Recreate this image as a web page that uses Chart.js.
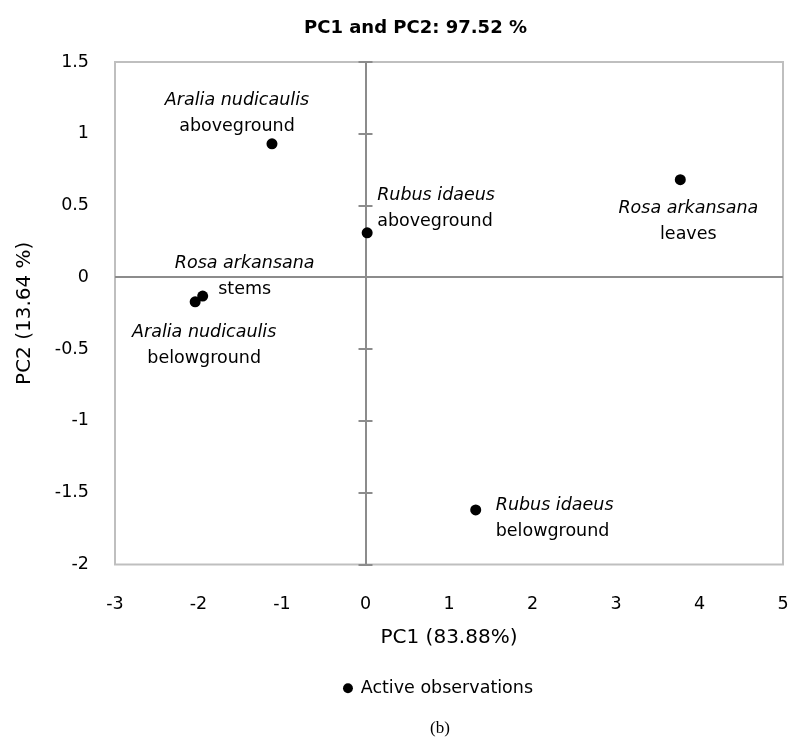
<!DOCTYPE html>
<html>
<head>
<meta charset="utf-8">
<script src="https://cdn.jsdelivr.net/npm/chart.js@4.4.1/dist/chart.umd.min.js"></script>
<style>
  body { margin: 0; background: #fff; }
  #wrap { width: 795px; height: 747px; }
</style>
</head>
<body>
<div id="wrap"><canvas id="pcaChart" width="795" height="747"></canvas></div>
<script>
// PCA scores
const pc1 = [-1.12, 0.02, 3.77, -1.95, -2.04, 1.32];
const pc2 = [0.93, 0.31, 0.68, -0.13, -0.17, -1.62];
const species = ['Aralia nudicaulis', 'Rubus idaeus', 'Rosa arkansana', 'Rosa arkansana', 'Aralia nudicaulis', 'Rubus idaeus'];
const parts = ['aboveground', 'aboveground', 'leaves', 'stems', 'belowground', 'belowground'];
const xTicks = [-3, -2, -1, 0, 1, 2, 3, 4, 5];
const yTicks = [-2, -1.5, -1, -0.5, 0, 0.5, 1, 1.5];

// where each label sits relative to its point (px): dx, dy of first line, alignment
const labelPos = [
  [-35, -43, 'center'],
  [10, -37, 'left'],
  [8, 29, 'center'],
  [42, -33, 'center'],
  [9, 31, 'center'],
  [20, -4, 'left']
];

const FONT = 'DejaVu Sans';
const AXIS_GRAY = '#8c8c8c';
const zeroOnly = c => (c.tick && c.tick.value === 0) ? AXIS_GRAY : 'rgba(0,0,0,0)';

const pointLabels = {
  id: 'pointLabels',
  beforeDraw(chart) {
    const {ctx, chartArea: a} = chart;
    ctx.save();
    ctx.strokeStyle = '#bfbfbf';
    ctx.lineWidth = 2;
    ctx.strokeRect(a.left, a.top, a.right - a.left, a.bottom - a.top);
    ctx.restore();
  },
  beforeDatasetsDraw(chart) {
    // small tick marks on the vertical zero axis
    const {ctx} = chart;
    const x0 = chart.scales.x.getPixelForValue(0);
    ctx.save();
    ctx.strokeStyle = AXIS_GRAY;
    ctx.lineWidth = 2;
    yTicks.forEach(v => {
      const y = Math.round(chart.scales.y.getPixelForValue(v));
      ctx.beginPath();
      ctx.moveTo(x0 - 7, y);
      ctx.lineTo(x0 + 7, y);
      ctx.stroke();
    });
    ctx.restore();
  },
  afterDatasetsDraw(chart) {
    const {ctx} = chart;
    const meta = chart.getDatasetMeta(0);
    ctx.save();
    ctx.fillStyle = '#000';
    ctx.textBaseline = 'middle';
    meta.data.forEach((pt, i) => {
      const [dx, dy, align] = labelPos[i];
      ctx.textAlign = align;
      ctx.font = 'italic 17.5px "' + FONT + '"';
      ctx.fillText(species[i], pt.x + dx, pt.y + dy);
      ctx.font = '17.5px "' + FONT + '"';
      ctx.fillText(parts[i], pt.x + dx, pt.y + dy + 26);
    });
    ctx.restore();
  },
  afterDraw(chart) {
    const {ctx} = chart;
    ctx.save();
    ctx.fillStyle = '#000';
    ctx.font = '17px "Liberation Serif"';
    ctx.textAlign = 'center';
    ctx.textBaseline = 'middle';
    ctx.fillText('(b)', 440, 729);
    ctx.restore();
  },
  afterLayout(chart) {
    // title and legend sit a bit right of the canvas centre in the original
    chart.legend.left += 42;
    chart.legend.right += 42;
    chart.titleBlock.left += 19;
    chart.titleBlock.right += 19;
  }
};

const ctx = document.getElementById('pcaChart').getContext('2d');
const chart = new Chart(ctx, {
  type: 'scatter',
  data: {
    datasets: [{
      label: 'Active observations',
      data: pc1.map((x, i) => ({x: x, y: pc2[i]})),
      backgroundColor: '#000',
      borderColor: '#000',
      borderWidth: 0,
      pointRadius: 5.5,
      pointHoverRadius: 5.5
    }]
  },
  options: {
    responsive: false,
    animation: false,
    devicePixelRatio: 1,
    layout: { padding: { left: 10, right: 12, top: 0, bottom: 40 } },
    plugins: {
      tooltip: { enabled: false },
      title: {
        display: true,
        text: 'PC1 and PC2: 97.52 %',
        color: '#000',
        font: { family: FONT, size: 18, weight: 'bold' },
        padding: { top: 18, bottom: 22.4 }
      },
      legend: {
        position: 'bottom',
        labels: {
          color: '#000',
          font: { family: FONT, size: 17.5 },
          usePointStyle: true,
          pointStyle: 'circle',
          boxWidth: 8,
          boxHeight: 7,
          padding: 30
        }
      }
    },
    scales: {
      x: {
        type: 'linear',
        min: -3,
        max: 5,
        afterBuildTicks: s => { s.ticks = xTicks.map(v => ({value: v})); },
        afterFit: s => { s.height = 85; },
        border: { display: false },
        grid: {
          drawTicks: true,
          tickLength: 26,
          tickColor: 'rgba(0,0,0,0)',
          lineWidth: 2,
          color: zeroOnly
        },
        ticks: {
          color: '#000',
          font: { family: FONT, size: 17.5 },
          padding: 3,
          maxRotation: 0,
          callback: v => String(v)
        },
        title: {
          display: true,
          text: 'PC1 (83.88%)',
          color: '#000',
          font: { family: FONT, size: 20 },
          padding: { top: 0, bottom: 0 }
        }
      },
      y: {
        type: 'linear',
        min: -2,
        max: 1.5,
        afterBuildTicks: s => { s.ticks = yTicks.map(v => ({value: v})); },
        afterFit: s => { s.width = 105; },
        border: { display: false },
        grid: {
          drawTicks: false,
          lineWidth: 2,
          color: zeroOnly
        },
        ticks: {
          color: '#000',
          font: { family: FONT, size: 17.5 },
          padding: 26,
          callback: v => String(v)
        },
        title: {
          display: true,
          text: 'PC2 (13.64 %)',
          color: '#000',
          font: { family: FONT, size: 20 },
          padding: { top: 3, bottom: 0 }
        }
      }
    }
  },
  plugins: [pointLabels]
});
</script>
</body>
</html>
